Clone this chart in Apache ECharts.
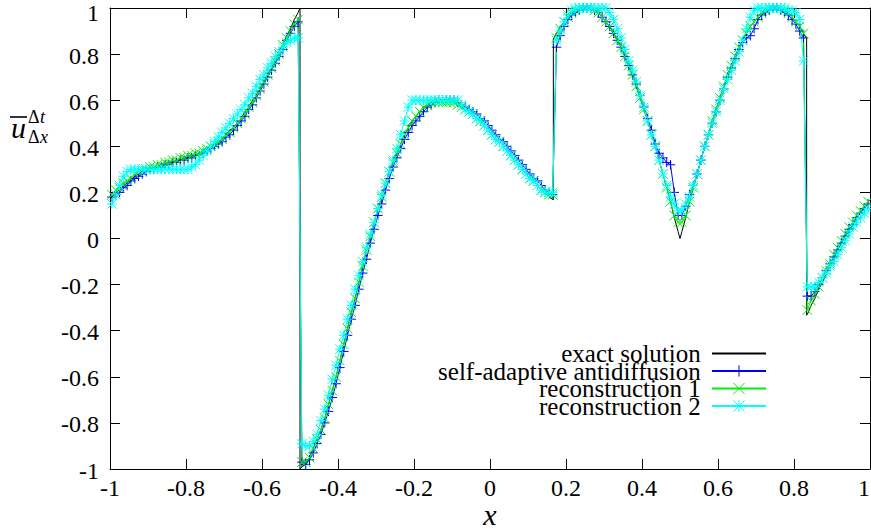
<!DOCTYPE html>
<html><head><meta charset="utf-8">
<script src="https://cdn.jsdelivr.net/npm/echarts@6/dist/echarts.min.js"></script>
<style>html,body{margin:0;padding:0;background:#fff}#c{width:871px;height:531px}</style>
</head><body><div id="c"></div>
<script>
// ---- data ----
// cell centres of the 200-cell mesh on [-1,1]
const nCells = 200;
const xCells = Array.from({length: nCells}, (_, i) => +(-0.995 + 0.01 * i).toFixed(3));

const exactU = [
  0.18,0.20,0.21,0.23,0.24,0.25,0.27,0.28,0.29,0.29,0.30,0.31,0.31,0.32,0.32,0.33,0.33,0.34,0.34,0.35,
  0.35,0.36,0.36,0.37,0.38,0.39,0.40,0.41,0.42,0.43,0.45,0.47,0.48,0.50,0.52,0.55,0.57,0.60,0.62,0.65,
  0.68,0.71,0.74,0.77,0.81,0.84,0.88,0.91,0.95,0.98,
  -0.99,-0.98,-0.95,-0.91,-0.87,-0.83,-0.78,-0.72,-0.66,-0.60,-0.53,-0.46,-0.39,-0.32,-0.26,-0.19,-0.12,-0.05,0.01,0.07,
  0.13,0.18,0.24,0.29,0.33,0.37,0.41,0.45,0.48,0.51,0.53,0.55,0.57,0.58,0.59,0.60,0.60,0.60,0.60,0.60,
  0.59,0.58,0.57,0.56,0.55,0.54,0.52,0.51,0.49,0.47,0.45,0.43,0.42,0.40,0.38,0.36,0.34,0.32,0.30,0.28,
  0.26,0.25,0.23,0.21,0.20,0.18,0.17,
  0.89,0.92,0.94,0.96,0.98,0.99,1.00,1.00,1.00,1.00,0.99,0.98,0.96,0.94,0.92,0.89,0.86,0.83,0.79,0.75,
  0.71,0.66,0.61,0.56,0.51,0.45,0.40,0.34,0.28,0.22,0.16,0.09,0.03,
  0.03,0.09,0.16,0.22,0.28,0.34,0.40,0.45,0.51,0.56,0.61,0.66,0.71,0.75,0.79,0.83,0.86,0.89,0.92,0.94,
  0.96,0.98,0.99,1.00,1.00,1.00,1.00,0.99,0.98,0.96,0.94,0.92,0.89,
  -0.33,-0.29,-0.26,-0.22,-0.19,-0.15,-0.12,-0.09,-0.05,-0.02,0.01,0.03,0.06,0.09,0.11,0.14,0.16
];
// extra points of the exact solution at its kinks and jumps
const exactJumpX = [-1, -0.5, -0.5, 0.1667, 0.1667, 0.25, 0.5, 0.75, 0.8333, 0.8333, 1];
const exactJumpY = [0.167, 1.0, -1.0, 0.167, 0.866, 1.0, 0.0, 1.0, 0.866, -0.333, 0.167];

const antidiffU = [
  0.18,0.19,0.20,0.22,0.23,0.25,0.26,0.27,0.28,0.29,0.30,0.30,0.31,0.31,0.32,0.32,0.33,0.33,0.34,0.34,
  0.35,0.35,0.36,0.36,0.37,0.38,0.39,0.40,0.41,0.42,0.44,0.45,0.47,0.49,0.51,0.53,0.56,0.58,0.61,0.64,
  0.67,0.70,0.73,0.76,0.79,0.82,0.86,0.89,0.92,0.94,
  -0.97,-0.98,-0.96,-0.93,-0.89,-0.85,-0.80,-0.75,-0.69,-0.63,-0.56,-0.49,-0.42,-0.35,-0.29,-0.22,-0.15,-0.09,-0.02,0.04,
  0.10,0.15,0.21,0.26,0.31,0.35,0.39,0.43,0.46,0.49,0.51,0.53,0.55,0.57,0.58,0.59,0.60,0.60,0.60,0.60,
  0.60,0.59,0.58,0.57,0.56,0.55,0.54,0.52,0.51,0.49,0.47,0.45,0.43,0.42,0.40,0.38,0.36,0.34,0.32,0.30,
  0.28,0.26,0.25,0.23,0.21,0.20,0.19,
  0.83,0.88,0.92,0.95,0.97,0.98,0.99,1.00,1.00,1.00,0.99,0.98,0.96,0.94,0.92,0.89,0.86,0.83,0.79,0.75,
  0.71,0.67,0.62,0.57,0.52,0.47,0.41,0.37,0.35,0.33,0.32,0.20,0.10,
  0.10,0.14,0.19,0.23,0.28,0.34,0.40,0.45,0.50,0.55,0.60,0.65,0.70,0.74,0.78,0.82,0.85,0.87,0.88,0.91,
  0.95,0.97,0.98,0.99,1.00,1.00,0.99,0.98,0.97,0.95,0.93,0.90,0.87,
  -0.25,-0.25,-0.23,-0.20,-0.17,-0.14,-0.11,-0.08,-0.05,-0.02,0.01,0.04,0.06,0.09,0.11,0.13,0.15
];

const recon1U = [
  0.19,0.21,0.22,0.24,0.25,0.26,0.28,0.29,0.30,0.30,0.31,0.31,0.32,0.32,0.33,0.33,0.34,0.34,0.35,0.35,
  0.36,0.36,0.37,0.37,0.38,0.39,0.40,0.41,0.42,0.43,0.45,0.46,0.48,0.50,0.52,0.54,0.57,0.59,0.62,0.65,
  0.68,0.71,0.74,0.77,0.80,0.84,0.87,0.90,0.93,0.95,
  -0.97,-0.97,-0.95,-0.91,-0.87,-0.83,-0.78,-0.72,-0.66,-0.60,-0.53,-0.46,-0.39,-0.32,-0.26,-0.19,-0.12,-0.05,0.01,0.07,
  0.13,0.18,0.24,0.29,0.33,0.37,0.41,0.45,0.48,0.51,0.53,0.55,0.57,0.58,0.59,0.59,0.59,0.59,0.59,0.59,
  0.59,0.58,0.57,0.56,0.55,0.54,0.52,0.51,0.49,0.47,0.45,0.43,0.42,0.40,0.38,0.36,0.34,0.32,0.30,0.28,
  0.26,0.25,0.23,0.21,0.20,0.19,0.19,
  0.87,0.91,0.94,0.96,0.98,0.99,1.00,1.00,1.00,1.00,0.99,0.98,0.96,0.94,0.92,0.89,0.86,0.83,0.79,0.75,
  0.71,0.66,0.61,0.56,0.51,0.45,0.40,0.34,0.28,0.22,0.16,0.10,0.07,
  0.07,0.10,0.16,0.22,0.28,0.34,0.40,0.45,0.51,0.56,0.61,0.66,0.71,0.75,0.79,0.83,0.86,0.89,0.92,0.94,
  0.96,0.98,0.99,1.00,1.00,1.00,1.00,0.99,0.98,0.96,0.94,0.92,0.89,
  -0.31,-0.27,-0.24,-0.21,-0.17,-0.14,-0.11,-0.07,-0.04,-0.01,0.02,0.05,0.07,0.10,0.12,0.14,0.16
];

const recon2U = [
  0.15,0.19,0.23,0.27,0.29,0.30,0.30,0.30,0.30,0.30,0.30,0.30,0.30,0.30,0.30,0.30,0.30,0.30,0.30,0.30,
  0.30,0.31,0.32,0.34,0.36,0.38,0.40,0.42,0.44,0.46,0.48,0.50,0.52,0.54,0.56,0.58,0.61,0.63,0.66,0.69,
  0.71,0.74,0.76,0.79,0.81,0.83,0.85,0.86,0.87,0.87,
  -0.89,-0.90,-0.90,-0.88,-0.85,-0.79,-0.74,-0.68,-0.61,-0.55,-0.48,-0.42,-0.35,-0.29,-0.22,-0.16,-0.10,-0.04,0.02,0.07,
  0.13,0.19,0.24,0.29,0.34,0.39,0.45,0.51,0.57,0.60,0.60,0.60,0.60,0.60,0.60,0.60,0.60,0.60,0.60,0.60,
  0.60,0.60,0.58,0.56,0.55,0.54,0.52,0.51,0.49,0.47,0.45,0.43,0.42,0.40,0.38,0.36,0.34,0.32,0.30,0.28,
  0.26,0.25,0.23,0.21,0.20,0.20,0.20,
  0.86,0.90,0.94,0.97,0.99,1.00,1.00,1.00,1.00,1.00,1.00,1.00,1.00,1.00,0.98,0.95,0.91,0.87,0.82,0.77,
  0.73,0.68,0.62,0.57,0.51,0.45,0.40,0.34,0.28,0.23,0.18,0.15,0.12,
  0.12,0.15,0.18,0.23,0.28,0.34,0.40,0.45,0.50,0.55,0.60,0.65,0.69,0.73,0.77,0.81,0.86,0.91,0.96,0.99,
  1.00,1.00,1.00,1.00,1.00,1.00,1.00,1.00,0.99,0.99,0.98,0.95,0.77,
  -0.21,-0.21,-0.21,-0.19,-0.17,-0.15,-0.12,-0.10,-0.07,-0.04,-0.01,0.02,0.05,0.07,0.09,0.11,0.13
];

const seriesNames = ['exact solution', 'self-adaptive antidiffusion', 'reconstruction 1', 'reconstruction 2'];
const axisMin = -1, axisMax = 1, axisStep = 0.2;

// ---- build ----
const pairs = (xs, ys) => xs.map((x, i) => [x, ys[i]]);
const exactPts = pairs(xCells, exactU).concat(pairs(exactJumpX, exactJumpY));
exactPts.sort((a, b) => a[0] - b[0]);

const FONT = 'Liberation Serif';
const PLUS = 'path://M0,5L10,5M5,0L5,10';
const CROSS = 'path://M0,0L10,10M10,0L0,10';
const STAR = 'path://M0,5L10,5M5,0L5,10M0,0L10,10M10,0L0,10';

const axisBase = () => ({
  type: 'value', min: axisMin, max: axisMax, interval: axisStep,
  axisLine: {show: true, onZero: false, lineStyle: {color: '#000', width: 1}},
  axisTick: {show: true, inside: true, length: 10, lineStyle: {color: '#000', width: 1}},
  splitLine: {show: false}
});

function markSeries(name, data, color, symbol) {
  return {
    name, type: 'line', data, symbol, symbolSize: 9.5, showSymbol: true, showAllSymbol: true,
    lineStyle: {color, width: 1},
    itemStyle: {color, borderColor: color, borderWidth: 1},
    emphasis: {disabled: true}
  };
}
function txt(text, x, y, size, italic, align) {
  return {type: 'text', x, y, style: {
    text, fill: '#000', fontFamily: FONT, fontSize: size, fontStyle: italic ? 'italic' : 'normal',
    lineHeight: Math.round(size * 0.7), align: align || 'left', verticalAlign: 'middle'}};
}

const option = {
  animation: false,
  backgroundColor: '#fff',
  textStyle: {fontFamily: FONT},
  grid: {left: 110, right: 1, top: 8, bottom: 62, containLabel: false, outerBoundsMode: 'none'},
  xAxis: [
    Object.assign(axisBase(), {position: 'bottom', axisLabel: {margin: 10, color: '#000', fontFamily: FONT, fontSize: 24, lineHeight: 18, alignMaxLabel: 'right'}}),
    Object.assign(axisBase(), {position: 'top', axisLabel: {show: false}})
  ],
  yAxis: [
    Object.assign(axisBase(), {position: 'left', axisLabel: {
      margin: 11, color: '#000', fontFamily: FONT, fontSize: 24, lineHeight: 16,
      formatter: v => (v === axisMax ? '{top|' + v + '}' : '{n|' + v + '}'),
      rich: {
        top: {fontFamily: FONT, fontSize: 24, color: '#000', lineHeight: 16, padding: [9, 0, 0, 0]},
        n: {fontFamily: FONT, fontSize: 24, color: '#000', lineHeight: 16, padding: [3, 0, 0, 0]}
      }}}),
    Object.assign(axisBase(), {position: 'right', axisLabel: {show: false}})
  ],
  legend: {
    orient: 'vertical', align: 'right', right: 104, top: 341, padding: 0, itemGap: -7.5,
    itemWidth: 54, itemHeight: 14, selectedMode: false,
    textStyle: {fontFamily: FONT, fontSize: 25, color: '#000'},
    itemStyle: {borderWidth: 1},
    formatter: n => n + ' ',
    data: [{name: seriesNames[0], itemStyle: {opacity: 0}}, seriesNames[1], seriesNames[2], seriesNames[3]]
  },
  series: [
    {name: seriesNames[0], type: 'line', data: exactPts, symbol: 'none',
     lineStyle: {color: '#000', width: 1}, itemStyle: {color: '#000'}, emphasis: {disabled: true}},
    markSeries(seriesNames[1], pairs(xCells, antidiffU), '#0000ff', PLUS),
    markSeries(seriesNames[2], pairs(xCells, recon1U), '#00ee00', CROSS),
    markSeries(seriesNames[3], pairs(xCells, recon2U), '#00ffff', STAR)
  ],
  graphic: [
    {type: 'line', shape: {x1: 10, y1: 117, x2: 27, y2: 117}, style: {stroke: '#000', lineWidth: 1.6}},
    txt('u', 11, 127.5, 30, true),
    txt('Δ', 28, 117.2, 18, false),
    txt('t', 40, 117.2, 18, true),
    txt('Δ', 28, 137.2, 18, false),
    txt('x', 40, 137.2, 18, true),
    txt('x', 490, 514, 30, true, 'center')
  ]
};

const chart = echarts.init(document.getElementById('c'), null, {renderer: 'svg'});
chart.setOption(option);
</script>
</body></html>
